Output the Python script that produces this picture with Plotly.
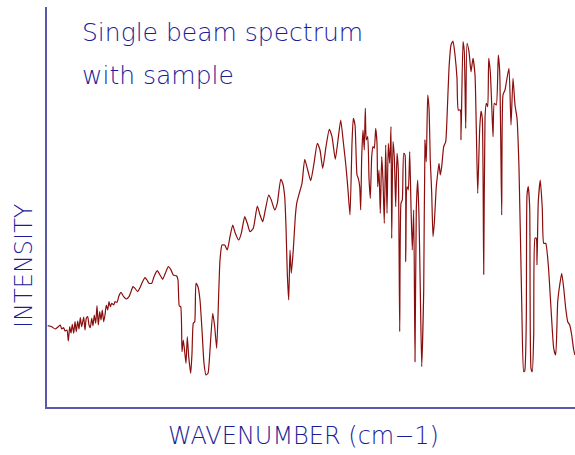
import plotly.graph_objects as go

# Single-beam FTIR spectrum recorded with the sample in the beam.
wavenumber = [
    3995, 3967, 3944, 3921, 3907, 3897, 3883, 3874, 3860, 3851,
    3841, 3832, 3823, 3813, 3804, 3795, 3785, 3776, 3767, 3757,
    3743, 3734, 3725, 3715, 3706, 3697, 3687, 3678, 3669, 3659,
    3650, 3641, 3631, 3622, 3613, 3603, 3594, 3585, 3575, 3566,
    3557, 3547, 3533, 3524, 3510, 3496, 3482, 3463, 3445, 3426,
    3412, 3398, 3384, 3365, 3351, 3333, 3314, 3300, 3286, 3267,
    3251, 3228, 3209, 3190, 3172, 3151, 3134, 3116, 3092, 3083,
    3074, 3064, 3055, 3046, 3036, 3027, 3018, 3008, 2994, 2985,
    2976, 2966, 2957, 2943, 2929, 2915, 2901, 2887, 2873, 2859,
    2840, 2826, 2812, 2798, 2789, 2775, 2756, 2738, 2719, 2700,
    2682, 2658, 2640, 2616, 2598, 2579, 2556, 2528, 2509, 2490,
    2472, 2448, 2430, 2406, 2388, 2364, 2350, 2336, 2327, 2318,
    2308, 2299, 2290, 2276, 2262, 2252, 2234, 2215, 2196, 2178,
    2154, 2131, 2108, 2089, 2070, 2047, 2024, 2005, 1982, 1963,
    1944, 1926, 1907, 1893, 1879, 1865, 1856, 1844, 1830, 1821,
    1811, 1804, 1797, 1788, 1779, 1772, 1765, 1755, 1746, 1737,
    1727, 1718, 1709, 1699, 1690, 1685, 1676, 1667, 1657, 1648,
    1639, 1629, 1620, 1611, 1601, 1592, 1587, 1578, 1569, 1559,
    1550, 1541, 1531, 1522, 1513, 1503, 1494, 1489, 1480, 1471,
    1461, 1452, 1443, 1433, 1424, 1415, 1405, 1396, 1387, 1377,
    1363, 1354, 1345, 1335, 1326, 1317, 1307, 1298, 1289, 1275,
    1265, 1256, 1247, 1237, 1223, 1209, 1200, 1186, 1172, 1158,
    1144, 1130, 1121, 1107, 1102, 1088, 1079, 1069, 1060, 1046,
    1032, 1018, 1004, 995, 985, 971, 962, 953, 943, 934,
    925, 915, 908, 897, 887, 878, 869, 855, 841, 831,
    817, 808, 794, 780, 766, 752, 738, 724, 710, 696,
    677, 663, 656, 645, 640, 631, 621, 612, 603, 593,
    584, 575, 570, 561, 547, 533, 523, 509, 491, 472,
    453, 439, 425, 411, 397, 383, 369, 355, 341, 327,
    313, 304,
]

intensity = [
    81.3, 80.3, 78.0, 80.3, 82.0, 78.0, 79.3, 76.0, 77.0, 66.0,
    80.3, 74.0, 82.7, 73.7, 85.3, 75.3, 86.0, 78.0, 89.3, 80.3,
    90.0, 77.0, 88.7, 90.3, 82.0, 79.3, 88.7, 81.3, 92.0, 83.7,
    101.3, 82.0, 95.3, 87.0, 97.0, 85.3, 92.0, 102.0, 97.0, 105.3,
    100.3, 103.7, 102.0, 105.3, 104.7, 111.3, 114.7, 110.3, 108.0, 110.3,
    115.3, 120.3, 118.7, 115.3, 118.7, 124.7, 129.3, 127.0, 123.7, 123.7,
    130.3, 136.3, 132.0, 127.7, 133.7, 140.3, 137.7, 132.0, 131.0, 127.0,
    101.0, 100.3, 55.3, 67.0, 55.3, 43.7, 70.3, 50.3, 33.7, 53.7,
    83.7, 85.3, 123.7, 120.3, 107.0, 77.0, 43.7, 32.0, 33.7, 57.0,
    93.7, 80.3, 58.7, 113.7, 147.0, 162.0, 162.0, 157.0, 170.3, 182.0,
    173.7, 167.0, 173.7, 190.3, 183.7, 175.3, 178.7, 201.0, 192.0, 185.3,
    197.0, 212.0, 207.0, 197.0, 203.7, 227.7, 223.7, 210.3, 180.3, 133.7,
    107.0, 157.0, 133.7, 157.0, 190.3, 203.7, 213.7, 223.7, 247.7, 238.7,
    226.3, 243.7, 263.7, 257.0, 238.7, 260.3, 277.7, 270.3, 247.7, 267.0,
    287.0, 265.3, 240.3, 217.0, 192.0, 263.7, 288.7, 282.0, 232.0, 228.7,
    220.3, 197.0, 250.3, 277.0, 257.0, 298.7, 267.0, 270.3, 228.7, 208.7,
    250.3, 260.3, 258.7, 278.7, 263.7, 220.3, 237.0, 193.7, 250.3, 227.0,
    183.7, 262.0, 193.7, 263.7, 243.7, 280.3, 168.7, 265.3, 250.3, 200.3,
    253.7, 237.0, 75.3, 203.7, 207.0, 253.7, 252.0, 145.3, 220.3, 217.0,
    255.3, 200.3, 157.0, 197.0, 45.3, 197.0, 227.0, 190.3, 117.0, 40.3,
    117.0, 267.0, 245.3, 312.0, 299.0, 247.0, 213.7, 170.3, 183.7, 220.3,
    233.7, 243.7, 232.0, 240.3, 260.3, 265.3, 288.7, 338.7, 362.0, 366.0,
    352.0, 328.7, 297.0, 297.0, 267.0, 365.3, 355.3, 278.7, 363.7, 355.3,
    335.3, 348.7, 332.0, 278.7, 213.7, 278.7, 296.0, 288.7, 132.7, 288.7,
    303.7, 300.3, 348.7, 335.3, 302.0, 270.3, 303.7, 302.0, 352.0, 335.3,
    192.0, 312.0, 317.0, 328.7, 338.7, 282.0, 328.7, 302.0, 288.7, 238.7,
    105.3, 35.3, 36.0, 87.0, 212.0, 220.3, 198.7, 38.7, 35.3, 72.0,
    168.7, 168.7, 142.0, 205.3, 227.0, 198.7, 163.7, 163.7, 142.0, 98.7,
    58.7, 52.0, 105.3, 122.0, 133.7, 118.7, 98.7, 85.3, 82.0, 72.0,
    57.0, 52.0,
]

title_lines = ["Single beam spectrum", "with sample"]
x_label = "WAVENUMBER (cm\u22121)"
y_label = "INTENSITY"

TEXT_BLUE = "#1c1c98"
AXIS_BLUE = "#5a5aac"
FONT = "DejaVu Sans"

fig = go.Figure(
    go.Scatter(
        x=wavenumber,
        y=intensity,
        mode="lines",
        line=dict(color="#8b0d0d", width=1.2, shape="spline", smoothing=0.5),
        hoverinfo="skip",
    )
)

fig.update_layout(
    width=575,
    height=455,
    margin=dict(l=47, r=0, t=7, b=48),
    paper_bgcolor="white",
    plot_bgcolor="white",
    showlegend=False,
    font=dict(family=FONT, color=TEXT_BLUE),
)

fig.update_xaxes(
    range=[4000, 304],
    showgrid=False,
    zeroline=False,
    showticklabels=False,
    ticks="",
    showline=True,
    linecolor=AXIS_BLUE,
    linewidth=1.5,
)
fig.update_yaxes(
    range=[0, 400],
    showgrid=False,
    zeroline=False,
    showticklabels=False,
    ticks="",
    showline=True,
    linecolor=AXIS_BLUE,
    linewidth=1.5,
)

# Caption in the upper left of the plot area
for i, line in enumerate(title_lines):
    fig.add_annotation(
        text=line,
        xref="paper", yref="paper",
        x=0.0625, y=0.935 - i * 0.107,
        xanchor="left", yanchor="middle",
        showarrow=False,
        font=dict(family=FONT, size=25, color=TEXT_BLUE, weight=300),
    )

# Axis titles
fig.add_annotation(
    text=x_label,
    xref="paper", yref="paper",
    x=0.485, y=-0.072,
    xanchor="center", yanchor="middle",
    showarrow=False,
    font=dict(family=FONT, size=24, color=TEXT_BLUE, weight=300),
)
fig.add_annotation(
    text=y_label,
    xref="paper", yref="paper",
    x=-0.0436, y=0.355,
    xanchor="center", yanchor="middle",
    textangle=-90,
    showarrow=False,
    font=dict(family=FONT, size=24, color=TEXT_BLUE, weight=300),
)

fig.write_html("out.html")
